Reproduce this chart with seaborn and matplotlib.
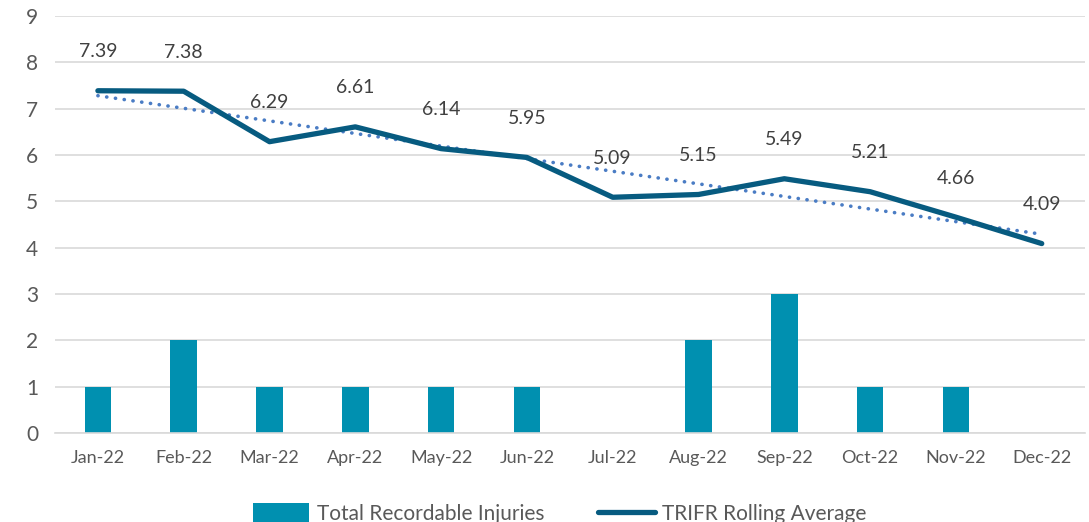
import numpy as np
import pandas as pd
import seaborn as sns
import matplotlib.pyplot as plt
from matplotlib.lines import Line2D
from matplotlib.patches import Patch

months = ['Jan-22', 'Feb-22', 'Mar-22', 'Apr-22', 'May-22', 'Jun-22',
          'Jul-22', 'Aug-22', 'Sep-22', 'Oct-22', 'Nov-22', 'Dec-22']
injuries = [1, 2, 1, 1, 1, 1, 0, 2, 3, 1, 1, 0]
trifr = [7.39, 7.38, 6.29, 6.61, 6.14, 5.95, 5.09, 5.15, 5.49, 5.21, 4.66, 4.09]

bar_color = '#0090B0'
line_color = '#075B80'
trend_color = '#4A7CC4'
text_color = '#595959'

sns.set_style('white')
plt.rcParams['font.family'] = ['Lato', 'DejaVu Sans']

df = pd.DataFrame({'month': months, 'injuries': injuries, 'trifr': trifr})
df['pos'] = np.arange(len(months))

fig = plt.figure(figsize=(10.89, 5.22), dpi=100)
ax = fig.add_axes([0.0505, 0.1705, 0.9455, 0.7985])

sns.barplot(data=df, x='month', y='injuries', color=bar_color, width=0.31,
            saturation=1, linewidth=0, ax=ax, zorder=2)

# linear trendline (like the Excel one)
k, b = np.polyfit(df['pos'], df['trifr'], 1)
df['trend'] = k * df['pos'] + b
sns.lineplot(data=df, x='pos', y='trend', color=trend_color, lw=2.6,
             linestyle=(0, (0.05, 2.4)), dash_capstyle='round', ax=ax, zorder=3)
sns.lineplot(data=df, x='pos', y='trifr', color=line_color, lw=3.8,
             solid_capstyle='round', ax=ax, zorder=4)

for i, v in enumerate(trifr):
    ax.annotate(f'{v:.2f}', (i, v), xytext=(0, 22), textcoords='offset points',
                ha='center', va='bottom', fontsize=14, color='#404040', zorder=5)

ax.set_ylim(0, 9)
ax.set_xlim(-0.5, len(months) - 0.5)
ax.set_yticks(range(0, 10))
ax.yaxis.grid(True, color='#D9D9D9', lw=1.2)
ax.set_axisbelow(True)
ax.set_xlabel('')
ax.set_ylabel('')
for s in ['top', 'right', 'left']:
    ax.spines[s].set_visible(False)
ax.spines['bottom'].set_color('#D9D9D9')
ax.spines['bottom'].set_linewidth(1.2)

ax.set_xticks(range(len(months)))
ax.set_xticklabels(months)
ax.set_xticks(np.arange(-0.5, len(months), 1), minor=True)
ax.tick_params(axis='x', which='major', length=0, pad=12, labelsize=13, labelcolor=text_color)
ax.tick_params(axis='x', which='minor', length=6, width=1.2, color='#D9D9D9')
ax.tick_params(axis='y', length=0, pad=12, labelsize=15, labelcolor=text_color)

handles = [Patch(color=bar_color, lw=0), Line2D([0], [0], color=line_color, lw=3.8, solid_capstyle='round')]
fig.legend(handles, ['Total Recordable Injuries', 'TRIFR Rolling Average'],
           loc='center', bbox_to_anchor=(0.514, 0.016), ncol=2, frameon=False,
           fontsize=15, labelcolor=text_color, handlelength=2.7, handleheight=1.0,
           columnspacing=2.6, handletextpad=0.35)

fig.savefig('out.png', dpi=100)
